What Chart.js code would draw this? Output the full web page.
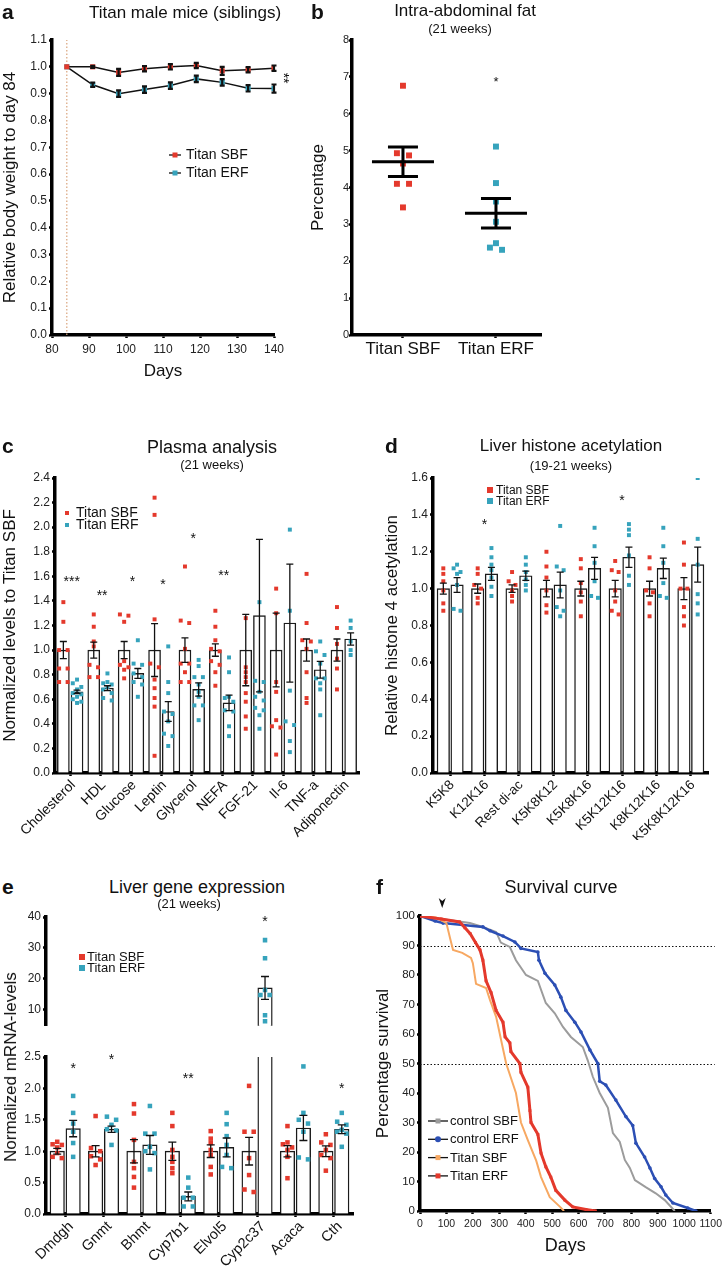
<!DOCTYPE html>
<html>
<head>
<meta charset="utf-8">
<script src="https://cdn.jsdelivr.net/npm/chart.js@4.4.1/dist/chart.umd.min.js"></script>
<style>
body{margin:0;background:#fff;font-family:"Liberation Sans",Arial,sans-serif;color:#111}
#page{position:relative;width:726px;height:1267px;overflow:hidden;background:#fff}
.box{position:absolute}
.t{position:absolute;white-space:nowrap;transform:translate(-50%,-50%)}
.lt{position:absolute;font-weight:bold;font-size:21px;transform:translate(0,-50%)}
</style>
</head>
<body>
<div id="page">
<div class="box" style="left:0;top:0;width:300px;height:385px"><canvas id="ca"></canvas></div>
<div class="box" style="left:300px;top:0;width:260px;height:385px"><canvas id="cb"></canvas></div>
<div class="box" style="left:0;top:430px;width:363px;height:410px"><canvas id="cc"></canvas></div>
<div class="box" style="left:363px;top:430px;width:363px;height:410px"><canvas id="cd"></canvas></div>
<div class="box" style="left:0;top:900px;width:363px;height:135px"><canvas id="ce1"></canvas></div>
<div class="box" style="left:0;top:1040px;width:363px;height:227px"><canvas id="ce2"></canvas></div>
<div class="box" style="left:363px;top:870px;width:363px;height:397px"><canvas id="cf"></canvas></div>

<div class="lt" style="left:2px;top:12px">a</div>
<div class="t" style="left:185px;top:13px;font-size:17px">Titan male mice (siblings)</div>
<div class="lt" style="left:311px;top:12px">b</div>
<div class="t" style="left:465px;top:11px;font-size:17px">Intra-abdominal fat</div>
<div class="t" style="left:460px;top:28px;font-size:13px">(21 weeks)</div>
<div class="lt" style="left:2px;top:446px">c</div>
<div class="t" style="left:212px;top:447px;font-size:18px">Plasma analysis</div>
<div class="t" style="left:212px;top:464px;font-size:13px">(21 weeks)</div>
<div class="lt" style="left:385px;top:446px">d</div>
<div class="t" style="left:571px;top:446px;font-size:17px">Liver histone acetylation</div>
<div class="t" style="left:571px;top:465px;font-size:13px">(19-21 weeks)</div>
<div class="lt" style="left:2px;top:887px">e</div>
<div class="t" style="left:197px;top:887px;font-size:18px">Liver gene expression</div>
<div class="t" style="left:189px;top:903px;font-size:13px">(21 weeks)</div>
<div class="lt" style="left:376px;top:887px">f</div>
<div class="t" style="left:561px;top:887px;font-size:18px">Survival curve</div>
<div class="t" style="left:11px;top:1067px;font-size:17px;transform:translate(-50%,-50%) rotate(-90deg)">Normalized mRNA-levels</div>
</div>

<script>
const FONT = '"Liberation Sans", Arial, Helvetica, sans-serif';
Chart.defaults.font.family = FONT;
Chart.defaults.color = '#222';
Chart.defaults.animation = false;
Chart.defaults.responsive = true;
Chart.defaults.maintainAspectRatio = false;
Chart.defaults.plugins.legend.display = false;
Chart.defaults.plugins.tooltip.enabled = false;

const RED = '#e4392c', TEAL = '#36a3bc', BLUE = '#2c4fb4', ORANGE = '#f7a862', GREY = '#9c9c9c';

// ---------- a : body weight ----------
const aDays = [84, 91, 98, 105, 112, 119, 126, 133, 140];
const aSbf = [1.0, 1.0, 0.979, 0.993, 1.0, 1.005, 0.985, 0.989, 0.995];
const aSbfSem = [0, 0.004, 0.013, 0.01, 0.01, 0.01, 0.015, 0.01, 0.01];
const aErf = [1.0, 0.933, 0.9, 0.915, 0.93, 0.955, 0.942, 0.92, 0.919];
const aErfSem = [0, 0.008, 0.012, 0.012, 0.012, 0.012, 0.012, 0.012, 0.015];
const aStartDay = 84;

// ---------- b : intra-abdominal fat ----------
const bCats = ['Titan SBF', 'Titan ERF'];
const bSbfPts = [6.76, 4.93, 4.87, 4.65, 4.10, 4.10, 3.46];
const bErfPts = [5.11, 4.12, 3.62, 3.07, 2.49, 2.37, 2.31];
const bMean = [4.70, 3.30];
const bSem = [0.40, 0.40];

// ---------- c : plasma ----------
const cCats = ['Cholesterol', 'HDL', 'Glucose', 'Leptin', 'Glycerol', 'NEFA', 'FGF-21', 'Il-6', 'TNF-a', 'Adiponectin'];
const cSbf = [1, 1, 1, 1, 1, 1, 1, 1, 1, 1];
const cSbfSem = [0.07, 0.065, 0.07, 0.215, 0.10, 0.05, 0.29, 0.30, 0.09, 0.09];
const cErf = [0.66, 0.69, 0.81, 0.50, 0.68, 0.57, 1.28, 1.22, 0.84, 1.09];
const cErfSem = [0.015, 0.02, 0.04, 0.08, 0.054, 0.063, 0.62, 0.48, 0.068, 0.05];
const cSbfPts = [
  [1.39, 1.23, 1.0, 1.0, 0.85, 0.85, 0.74, 0.74],
  [1.29, 1.19, 1.07, 1.03, 0.88, 0.86, 0.78, 0.78],
  [1.29, 1.28, 1.23, 0.91, 0.88, 0.86, 0.84, 0.77],
  [2.24, 2.10, 1.25, 0.89, 0.86, 0.76, 0.69, 0.61, 0.54, 0.14],
  [1.68, 1.24, 1.22, 1.01, 0.89, 0.89, 0.82, 0.74, 0.74],
  [1.32, 1.19, 1.08, 1.01, 0.99, 0.91, 0.88, 0.82, 0.71],
  [1.26, 0.86, 0.82, 0.78, 0.74, 0.65, 0.58, 0.46, 0.36],
  [1.50, 1.30, 0.74, 0.66, 0.43, 0.38, 0.37, 0.15],
  [1.62, 1.22, 1.08, 1.07, 1.01, 0.82, 0.61, 0.57],
  [1.35, 1.18, 1.05, 0.93, 0.85, 0.68]
];
const cErfPts = [
  [0.76, 0.73, 0.70, 0.68, 0.65, 0.64, 0.62, 0.60, 0.58, 0.57],
  [0.81, 0.74, 0.73, 0.72, 0.70, 0.68, 0.65, 0.61, 0.59],
  [1.08, 0.89, 0.88, 0.81, 0.78, 0.74, 0.72, 0.62],
  [1.03, 0.74, 0.65, 0.50, 0.48, 0.42, 0.32, 0.30, 0.22],
  [0.92, 0.87, 0.78, 0.78, 0.72, 0.66, 0.62, 0.55, 0.55, 0.43],
  [0.94, 0.82, 0.62, 0.61, 0.58, 0.51, 0.50, 0.38, 0.30],
  [1.39, 0.75, 0.74, 0.66, 0.62, 0.59, 0.53, 0.51, 0.47, 0.36],
  [1.98, 1.32, 0.67, 0.42, 0.39, 0.26, 0.17],
  [1.07, 0.99, 0.96, 0.89, 0.77, 0.77, 0.73, 0.68, 0.47],
  [1.24, 1.18, 1.07, 1.00, 0.96]
];
const cStarIdx = [0, 1, 2, 3, 4, 5];
const cStarVal = [1.58, 1.46, 1.58, 1.55, 1.93, 1.63];
const cStarTxt = ['***', '**', '*', '*', '*', '**'];

// ---------- d : histone acetylation ----------
const dCats = ['K5K8', 'K12K16', 'Rest di-ac', 'K5K8K12', 'K5K8K16', 'K5K12K16', 'K8K12K16', 'K5K8K12K16'];
const dSbf = [1, 1, 1, 1, 1, 1, 1, 1];
const dSbfSem = [0.03, 0.025, 0.02, 0.045, 0.04, 0.045, 0.04, 0.06];
const dErf = [1.02, 1.08, 1.07, 1.02, 1.11, 1.17, 1.11, 1.13];
const dErfSem = [0.04, 0.035, 0.025, 0.07, 0.06, 0.055, 0.055, 0.095];
const dSbfPts = [
  [1.11, 1.08, 1.04, 0.99, 0.92, 0.88],
  [1.11, 1.08, 1.02, 1.00, 0.95, 0.92],
  [1.09, 1.04, 1.02, 0.99, 0.96, 0.93],
  [1.20, 1.12, 1.06, 0.99, 0.91, 0.87],
  [1.16, 1.11, 1.03, 0.98, 0.93, 0.85],
  [1.15, 1.10, 1.09, 0.99, 0.93, 0.88, 0.86],
  [1.17, 1.11, 0.99, 0.98, 0.92, 0.85],
  [1.25, 1.13, 1.00, 1.00, 0.90, 0.85, 0.80]
];
const dErfPts = [
  [1.13, 1.11, 1.09, 1.08, 1.02, 0.89, 0.88],
  [1.22, 1.17, 1.13, 1.10, 1.06, 1.01, 0.96],
  [1.17, 1.13, 1.09, 1.05, 1.02, 0.99],
  [1.34, 1.12, 1.10, 0.99, 0.90, 0.88, 0.85],
  [1.33, 1.23, 1.14, 1.04, 0.96, 0.95],
  [1.35, 1.32, 1.29, 1.18, 1.07, 1.02],
  [1.33, 1.23, 1.14, 1.03, 0.95, 0.96],
  [1.60, 1.27, 1.13, 0.97, 0.92, 0.86]
];
const dStarIdx = [1, 5];
const dStarVal = [1.36, 1.49];

// ---------- e : gene expression ----------
const eCats = ['Dmdgh', 'Gnmt', 'Bhmt', 'Cyp7b1', 'Elvol5', 'Cyp2c37', 'Acaca', 'Cth'];
const eSbf = [1, 1, 1, 1, 1, 1, 1, 1];
const eSbfSem = [0.045, 0.09, 0.185, 0.145, 0.10, 0.22, 0.09, 0.085];
const eErf = [1.36, 1.35, 1.10, 0.28, 1.06, 17.0, 1.37, 1.35];
const eErfSem = [0.13, 0.05, 0.15, 0.07, 0.15, 3.7, 0.20, 0.07];
const eSbfPts = [
  [1.15, 1.11, 1.10, 1.06, 0.97, 0.91, 0.89],
  [1.56, 1.05, 1.00, 0.92, 0.87, 0.78],
  [1.75, 1.60, 1.18, 0.83, 0.73, 0.59, 0.42],
  [1.61, 1.40, 1.02, 0.91, 0.83, 0.73, 0.65],
  [1.32, 1.20, 1.13, 1.02, 0.94, 0.75, 0.63],
  [2.04, 1.31, 1.31, 0.89, 0.62, 0.39, 0.35],
  [1.40, 1.14, 1.11, 1.06, 1.02, 0.91, 0.57],
  [1.27, 1.14, 1.10, 1.02, 0.94, 0.89, 0.69]
];
const eErfPts = [
  [1.88, 1.61, 1.44, 1.31, 1.13, 0.91],
  [1.55, 1.50, 1.42, 1.35, 1.33, 1.10],
  [1.72, 1.28, 1.28, 1.07, 1.00, 0.97, 0.71],
  [0.58, 0.42, 0.26, 0.26, 0.12, 0.12],
  [1.61, 1.43, 1.24, 1.10, 0.94, 0.73, 0.75],
  [32.5, 26.6, 16.3, 14.7, 14.7, 8.1, 6.2],
  [2.35, 1.61, 1.50, 1.44, 1.31, 0.90, 0.87],
  [1.61, 1.47, 1.42, 1.34, 1.31, 1.28, 1.07]
];
const eStarIdx = [0, 1, 3, 5, 7];
const eStarVal = [2.36, 2.50, 2.19, 39.4, 2.04];
const eStarTxt = ['*', '*', '**', '*', '*'];
const eTopTicks = [10, 20, 30, 40];

// ---------- f : survival ----------
const fCsbfDays = [0, 189, 238, 288, 306, 340, 363, 401, 446, 476, 510, 541, 571, 616, 635, 654, 680, 711, 730, 756, 775, 794, 813, 854, 892, 926, 964];
const fCsbf = [100, 97.6, 96.3, 94.6, 91, 89.5, 85, 80, 78, 70.5, 67, 62.4, 59, 55.6, 51, 45.5, 40, 35, 26.4, 23.4, 17.3, 14.6, 10.5, 8.1, 6, 3.7, 0];
const fCerfDays = [0, 57, 87, 238, 265, 314, 359, 382, 446, 450, 473, 510, 533, 552, 586, 609, 643, 673, 680, 703, 741, 779, 805, 817, 850, 870, 888, 912, 930, 957, 1013, 1044];
const fCerf = [100, 98.3, 97.6, 96.3, 95, 93.2, 91.2, 89, 87.8, 85, 80.6, 76.6, 72.5, 68, 64, 60.7, 54.6, 50, 44, 42.7, 37.6, 32, 29, 23, 18.3, 14.6, 11, 8.2, 5.4, 2.7, 1, 0];
const fTsbfDays = [0, 60, 100, 115, 125, 160, 193, 200, 212, 250, 265, 288, 314, 326, 363, 382, 408, 440, 458, 491, 530, 545];
const fTsbf = [100, 99.5, 97.6, 92, 88.5, 87.5, 85.8, 84, 77, 75.6, 71.5, 65.8, 55, 50, 40, 30, 24, 17, 11.5, 4.7, 1.4, 0];
const fTerfDays = [0, 80, 150, 170, 190, 210, 227, 238, 250, 269, 288, 314, 322, 340, 344, 378, 382, 408, 416, 420, 446, 458, 476, 495, 514, 548, 578, 628, 664];
const fTerf = [100, 99, 98, 96, 94, 91, 88.5, 85, 78, 74, 68, 64, 59, 57, 54, 50, 47, 42, 34, 30, 26, 19.6, 15, 11.5, 7, 3.7, 1.4, 0.5, 0];
const fRefLines = [90, 50];
const fArrowDay = 84;

// ---------- helpers ----------
function ax(size, o) {
  o = o || {};
  return Object.assign({}, o, {
    grid: Object.assign({ drawOnChartArea: false, drawTicks: true, tickLength: 3, tickWidth: 2.5, color: '#000' }, o.grid || {}),
    border: { display: true, color: '#000', width: 3.5 },
    ticks: Object.assign({ color: '#222', font: { size: size }, padding: 2, autoSkip: false, maxRotation: 0 }, o.ticks || {})
  });
}
function axTitle(text, size, pad) {
  return { display: true, text: text, color: '#111', font: { size: size }, padding: pad };
}

// spread close values sideways so squares don't sit on each other
function spread(vals, thr, step) {
  const order = vals.map((v, i) => i).sort((a, b) => vals[b] - vals[a]);
  const off = vals.map(() => 0);
  let run = [];
  const flush = () => {
    const k = run.length;
    run.forEach((idx, j) => {
      if (k === 2) off[idx] = j === 0 ? -step : step;
      else if (k > 2) off[idx] = [0, -step, step][j % 3];
    });
    run = [];
  };
  order.forEach((idx, n) => {
    if (n > 0 && vals[order[n - 1]] - vals[idx] >= thr) flush();
    run.push(idx);
  });
  flush();
  return off;
}
function dots(groups, side, cp, thr, step) {
  const out = [];
  groups.forEach((vals, i) => {
    const off = spread(vals, thr, step);
    vals.forEach((v, j) => out.push({ x: i + side * cp / 4 + off[j], y: v }));
  });
  return out;
}

// ---------- plugins ----------
const errPlugin = {
  id: 'errbars',
  afterDatasetsDraw(chart, args, o) {
    if (!o || !o.sets) return;
    const ctx = chart.ctx, ys = chart.scales.y, a = chart.chartArea;
    ctx.save();
    ctx.beginPath();
    ctx.rect(a.left - 10, a.top - 1, a.right - a.left + 20, a.bottom - a.top + 2);
    ctx.clip();
    ctx.strokeStyle = '#111';
    ctx.lineWidth = o.width || 1.3;
    o.sets.forEach(s => {
      const meta = chart.getDatasetMeta(s.ds);
      const data = chart.data.datasets[s.ds].data;
      s.err.forEach((e, i) => {
        const d = data[i];
        const m = d === null || d === undefined ? null : (typeof d === 'object' ? d.y : d);
        if (m === null || m === undefined || !e || !meta.data[i]) return;
        const x = meta.data[i].x;
        const y1 = ys.getPixelForValue(m + e), y0 = ys.getPixelForValue(m - e);
        const c = (o.cap || 6) / 2;
        ctx.beginPath();
        ctx.moveTo(x, y1); ctx.lineTo(x, y0);
        ctx.moveTo(x - c, y1); ctx.lineTo(x + c, y1);
        ctx.moveTo(x - c, y0); ctx.lineTo(x + c, y0);
        ctx.stroke();
      });
    });
    ctx.restore();
  }
};

const marksPlugin = {
  id: 'marks',
  afterDatasetsDraw(chart, args, o) {
    if (!o || !o.items) return;
    const ctx = chart.ctx, xs = chart.scales.x, ys = chart.scales.y;
    const size = o.size || 14;
    ctx.save();
    ctx.fillStyle = '#111';
    ctx.font = size + 'px ' + FONT;
    ctx.textAlign = 'center';
    ctx.textBaseline = 'middle';
    o.items.forEach(it => {
      ctx.save();
      ctx.translate(xs.getPixelForValue(it.x), ys.getPixelForValue(it.y));
      if (it.rot) ctx.rotate(it.rot);
      ctx.fillText(it.text, 0, size * 0.22);
      ctx.restore();
    });
    ctx.restore();
  }
};

const keyPlugin = {
  id: 'key',
  afterDraw(chart, args, o) {
    if (!o || !o.items) return;
    const ctx = chart.ctx;
    ctx.save();
    ctx.font = o.size + 'px ' + FONT;
    ctx.textBaseline = 'middle';
    ctx.textAlign = 'left';
    o.items.forEach((it, i) => {
      const y = o.y + i * o.dy;
      if (o.line) {
        ctx.strokeStyle = '#111';
        ctx.lineWidth = 1.3;
        ctx.beginPath();
        ctx.moveTo(o.x - o.line / 2, y); ctx.lineTo(o.x + o.line / 2, y);
        ctx.stroke();
      }
      ctx.fillStyle = it.color;
      if (it.shape === 'circle') {
        ctx.beginPath(); ctx.arc(o.x, y, o.box / 2 + 0.5, 0, Math.PI * 2); ctx.fill();
      } else {
        ctx.fillRect(o.x - o.box / 2, y - o.box / 2, o.box, o.box);
      }
      ctx.fillStyle = '#111';
      ctx.fillText(it.text, o.tx, y + 0.5);
    });
    ctx.restore();
  }
};

const meanPlugin = {
  id: 'meansem',
  afterDatasetsDraw(chart, args, o) {
    if (!o || !o.means) return;
    const ctx = chart.ctx, xs = chart.scales.x, ys = chart.scales.y;
    ctx.save();
    ctx.strokeStyle = '#000';
    ctx.lineWidth = o.width;
    o.means.forEach((m, i) => {
      const x = xs.getPixelForValue(i), y = ys.getPixelForValue(m);
      const y1 = ys.getPixelForValue(m + o.sems[i]), y0 = ys.getPixelForValue(m - o.sems[i]);
      ctx.beginPath();
      ctx.moveTo(x - o.half, y); ctx.lineTo(x + o.half, y);
      ctx.moveTo(x, y1); ctx.lineTo(x, y0);
      ctx.moveTo(x - o.cap, y1); ctx.lineTo(x + o.cap, y1);
      ctx.moveTo(x - o.cap, y0); ctx.lineTo(x + o.cap, y0);
      ctx.stroke();
    });
    ctx.restore();
  }
};

const survPlugin = {
  id: 'surv',
  beforeDatasetsDraw(chart, args, o) {
    if (!o || !o.lines) return;
    const ctx = chart.ctx, ys = chart.scales.y, a = chart.chartArea;
    ctx.save();
    ctx.strokeStyle = '#111';
    ctx.lineWidth = 1;
    ctx.setLineDash([1.5, 2]);
    o.lines.forEach(v => {
      const y = Math.round(ys.getPixelForValue(v)) + 0.5;
      ctx.beginPath(); ctx.moveTo(a.left, y); ctx.lineTo(a.right + 4, y); ctx.stroke();
    });
    ctx.restore();
  },
  afterDraw(chart, args, o) {
    if (!o || o.arrow === undefined) return;
    const ctx = chart.ctx, x = chart.scales.x.getPixelForValue(o.arrow), y = chart.chartArea.top - 13;
    ctx.save();
    ctx.fillStyle = '#111';
    ctx.beginPath();
    ctx.moveTo(x - 3.5, y - 5); ctx.lineTo(x, y - 2); ctx.lineTo(x + 3.5, y - 5); ctx.lineTo(x, y + 5);
    ctx.closePath(); ctx.fill();
    ctx.restore();
  }
};

Chart.register(errPlugin, marksPlugin, keyPlugin, meanPlugin, survPlugin);

// ---------- a ----------
new Chart(document.getElementById('ca'), {
  type: 'line',
  data: {
    datasets: [
      { data: aDays.map((d, i) => ({ x: d, y: aSbf[i] })), borderColor: '#111', borderWidth: 1.5,
        pointStyle: 'rect', pointRadius: 3.6, pointBackgroundColor: RED, pointBorderWidth: 0, order: 1 },
      { data: aDays.map((d, i) => ({ x: d, y: aErf[i] })), borderColor: '#111', borderWidth: 1.5,
        pointStyle: 'rect', pointRadius: 3.6, pointBackgroundColor: TEAL, pointBorderWidth: 0, order: 1 },
      { data: [{ x: aStartDay, y: 0 }, { x: aStartDay, y: 1.1 }], borderColor: '#d9a47c', borderDash: [1.5, 2],
        borderWidth: 1.2, pointRadius: 0, order: 3 }
    ]
  },
  options: {
    layout: { padding: { top: 40, right: 26, left: 0, bottom: 0 } },
    scales: {
      x: ax(12, { type: 'linear', min: 80, max: 140, ticks: { stepSize: 10, padding: 4 },
        afterFit: s => { s.height = 50; }, title: axTitle('Days', 17, { top: 0, bottom: 3 }) }),
      y: ax(12, { min: 0, max: 1.1, ticks: { stepSize: 0.1, callback: v => v.toFixed(1) },
        afterFit: s => { s.width = 52; }, title: axTitle('Relative body weight to day 84', 17, { top: 0 }) })
    },
    plugins: {
      errbars: { sets: [{ ds: 0, err: aSbfSem }, { ds: 1, err: aErfSem }], cap: 5, width: 2.2 },
      marks: { size: 14, items: [{ x: 143.2, y: 0.958, text: '**', rot: Math.PI / 2 }] },
      key: { x: 175, tx: 186, y: 155, dy: 18, size: 14, line: 12, box: 5,
        items: [{ text: 'Titan SBF', color: RED }, { text: 'Titan ERF', color: TEAL }] }
    }
  }
});

// ---------- b ----------
const bOffR = spread(bSbfPts, 0.15, 0.065), bOffT = spread(bErfPts, 0.15, 0.065);
new Chart(document.getElementById('cb'), {
  type: 'scatter',
  data: {
    datasets: [
      { data: bSbfPts.map((v, i) => ({ x: 0 + bOffR[i], y: v })), backgroundColor: RED, pointStyle: 'rect', pointRadius: 4.2, pointBorderWidth: 0 },
      { data: bErfPts.map((v, i) => ({ x: 1 + bOffT[i], y: v })), backgroundColor: TEAL, pointStyle: 'rect', pointRadius: 4.2, pointBorderWidth: 0 }
    ]
  },
  options: {
    layout: { padding: { top: 40, right: 19, left: 0, bottom: 0 } },
    scales: {
      x: ax(17, { type: 'linear', min: -0.548, max: 1.484,
        afterBuildTicks: s => { s.ticks = [{ value: 0 }, { value: 1 }]; },
        ticks: { padding: 1, color: '#111', callback: v => bCats[v] },
        afterFit: s => { s.height = 50; } }),
      y: ax(11, { min: 0, max: 8, ticks: { stepSize: 1, padding: 0 },
        afterFit: s => { s.width = 52; }, title: axTitle('Percentage', 17, { top: 8 }) })
    },
    plugins: {
      meansem: { means: bMean, sems: bSem, half: 31, cap: 15, width: 3 },
      marks: { size: 13, items: [{ x: 1, y: 6.92, text: '*' }] }
    }
  }
});

// ---------- grouped bars with dots (c, d, e) ----------
// one linear x axis: category i sits at x = i, SBF bar left of it, ERF bar right of it
function groupedChart(id, o) {
  const n = o.cats.length;
  const lo = o.yMin, hi = o.yMax;
  const inRange = p => p.y >= lo && p.y <= hi;
  const sbfP = dots(o.sbfPts, -1, o.cp, o.thr, o.step).filter(inRange);
  const erfP = dots(o.erfPts, 1, o.cp, o.thr, o.step).filter(inRange);
  const bar = (vals, side) => ({
    data: vals.map((v, i) => ({ x: i + side * o.cp / 4, y: v >= lo ? v : null })),
    backgroundColor: '#fff', borderColor: '#1a1a1a', borderWidth: 1.4, borderSkipped: 'start',
    grouped: false, categoryPercentage: 1, barPercentage: 1, maxBarThickness: o.barW, order: 2 });
  const pts = (data, col) => ({ type: 'scatter', data: data, backgroundColor: col,
    pointStyle: 'rect', pointRadius: o.ptR, pointBorderWidth: 0, order: 1 });
  const yOpts = { min: lo, max: hi, ticks: { stepSize: o.yStep, callback: o.yFmt },
    afterFit: s => { s.width = o.yW; },
    title: o.yTitle ? axTitle(o.yTitle, 17, { top: o.yTitlePad }) : { display: false } };
  if (o.yTicks) yOpts.afterBuildTicks = s => { s.ticks = o.yTicks.map(v => ({ value: v })); };
  const xBase = { type: 'linear', min: -0.5, max: n - 0.5, offset: false,
    afterBuildTicks: s => { s.ticks = o.cats.map((c, i) => ({ value: i })); } };
  return new Chart(document.getElementById(id), {
    type: 'bar',
    data: { datasets: [bar(o.sbf, -1), bar(o.erf, 1), pts(sbfP, RED), pts(erfP, TEAL)] },
    options: {
      layout: { padding: o.pad },
      scales: {
        x: o.hideX ? Object.assign({ display: false }, xBase) :
          ax(o.xFont, Object.assign({}, xBase, { grid: { offset: false },
            ticks: { minRotation: 45, maxRotation: 45, padding: 1, labelOffset: o.xShift, color: '#111', callback: v => o.cats[v] },
            afterFit: s => { s.height = o.xH; } })),
        y: ax(12, yOpts)
      },
      plugins: {
        errbars: { sets: [{ ds: 0, err: o.sbfSem }, { ds: 1, err: o.erfSem }], cap: o.cap, width: 1.3 },
        marks: { size: 14, items: o.stars },
        key: o.key || {}
      }
    }
  });
}

groupedChart('cc', {
  cats: cCats, sbf: cSbf, erf: cErf, sbfSem: cSbfSem, erfSem: cErfSem, sbfPts: cSbfPts, erfPts: cErfPts,
  cp: 0.9, barW: 12, thr: 0.035, step: 0.14, ptR: 2.8, cap: 7,
  yMin: 0, yMax: 2.4, yStep: 0.2, yFmt: v => v.toFixed(1), yW: 55,
  yTitle: 'Normalized levels to Titan SBF', yTitlePad: 0,
  xFont: 14, xShift: 3, xH: 67, pad: { top: 48, right: 0, left: 0, bottom: 0 },
  stars: cStarIdx.map((i, k) => ({ x: i + 0.05, y: cStarVal[k], text: cStarTxt[k] })),
  key: { x: 67, tx: 76, y: 83, dy: 12, size: 14, box: 4,
    items: [{ text: 'Titan SBF', color: RED }, { text: 'Titan ERF', color: TEAL }] }
});

groupedChart('cd', {
  cats: dCats, sbf: dSbf, erf: dErf, sbfSem: dSbfSem, erfSem: dErfSem, sbfPts: dSbfPts, erfPts: dErfPts,
  cp: 0.8, barW: 12.5, thr: 0.025, step: 0.1, ptR: 2.8, cap: 7,
  yMin: 0, yMax: 1.6, yStep: 0.2, yFmt: v => v.toFixed(1), yW: 70,
  yTitle: 'Relative histone 4 acetylation', yTitlePad: 19,
  xFont: 13.5, xShift: 2, xH: 67, pad: { top: 48, right: 18, left: 0, bottom: 0 },
  stars: dStarIdx.map((i, k) => ({ x: i, y: dStarVal[k], text: '*' })),
  key: { x: 127, tx: 133, y: 60, dy: 11, size: 12, box: 6,
    items: [{ text: 'Titan SBF', color: RED }, { text: 'Titan ERF', color: TEAL }] }
});

const eStars = eStarIdx.map((i, k) => ({ x: i + 0.83 / 4, y: eStarVal[k], text: eStarTxt[k] }));
groupedChart('ce1', {
  cats: eCats, sbf: eSbf, erf: eErf, sbfSem: eSbfSem, erfSem: eErfSem, sbfPts: eSbfPts, erfPts: eErfPts,
  cp: 0.83, barW: 14.5, thr: 0.07, step: 0.12, ptR: 3.2, cap: 8,
  yMin: 4.7, yMax: 40, yStep: 10, yFmt: v => v, yTicks: eTopTicks, yW: 46,
  hideX: true, pad: { top: 17, right: 10, left: 0, bottom: 5 },
  stars: eStars.filter(s => s.y > 4.7),
  key: { x: 82, tx: 87, y: 57, dy: 11, size: 13, box: 6,
    items: [{ text: 'Titan SBF', color: RED }, { text: 'Titan ERF', color: TEAL }] }
});

groupedChart('ce2', {
  cats: eCats, sbf: eSbf, erf: eErf, sbfSem: eSbfSem, erfSem: eErfSem, sbfPts: eSbfPts, erfPts: eErfPts,
  cp: 0.83, barW: 14.5, thr: 0.07, step: 0.12, ptR: 3.2, cap: 8,
  yMin: 0, yMax: 2.5, yStep: 0.5, yFmt: v => v.toFixed(1), yW: 46,
  xFont: 14.5, xShift: 6, xH: 53, pad: { top: 17, right: 10, left: 0, bottom: 0 },
  stars: eStars.filter(s => s.y <= 2.5)
});

// ---------- f ----------
function curve(days, pct, col, w, r, shape, ord) {
  return { data: days.map((d, i) => ({ x: d, y: pct[i] })), borderColor: col, borderWidth: w,
    pointRadius: r, pointStyle: shape, pointBackgroundColor: col, pointBorderWidth: 0, order: ord };
}
new Chart(document.getElementById('cf'), {
  type: 'line',
  data: {
    datasets: [
      curve(fCsbfDays, fCsbf, GREY, 2, 0, 'circle', 4),
      curve(fCerfDays, fCerf, BLUE, 2.5, 1.8, 'circle', 3),
      curve(fTsbfDays, fTsbf, ORANGE, 2, 0, 'circle', 2),
      curve(fTerfDays, fTerf, RED, 3, 2, 'rect', 1)
    ]
  },
  options: {
    layout: { padding: { top: 46, right: 15, left: 0, bottom: 0 } },
    scales: {
      x: ax(10.5, { type: 'linear', min: 0, max: 1100, ticks: { stepSize: 100, padding: 4, callback: v => String(v) },
        afterFit: s => { s.height = 56; }, title: axTitle('Days', 18, { top: 0, bottom: 10 }) }),
      y: ax(11.5, { min: 0, max: 100, ticks: { stepSize: 10, padding: 2 },
        afterFit: s => { s.width = 57; }, title: axTitle('Percentage survival', 17, { top: 10 }) })
    },
    plugins: {
      surv: { lines: fRefLines, arrow: fArrowDay },
      key: { x: 75, tx: 87, y: 251, dy: 18.3, size: 13, line: 20, box: 5,
        items: [{ text: 'control SBF', color: GREY }, { text: 'control ERF', color: BLUE, shape: 'circle' },
                { text: 'Titan SBF', color: ORANGE }, { text: 'Titan ERF', color: RED }] }
    }
  }
});
</script>
</body>
</html>
